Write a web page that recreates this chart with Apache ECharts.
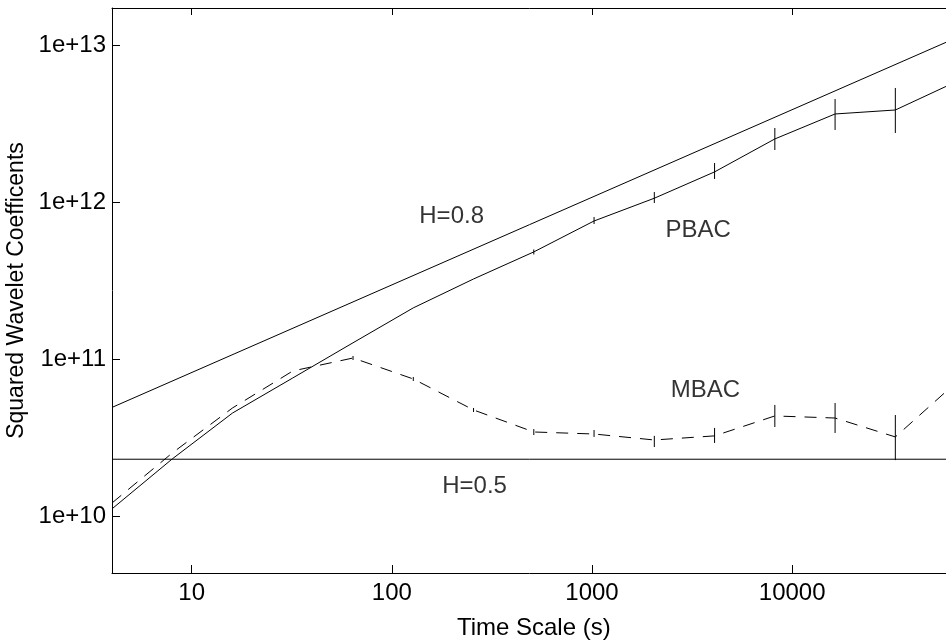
<!DOCTYPE html>
<html><head><meta charset="utf-8">
<script src="https://cdn.jsdelivr.net/npm/echarts@6/dist/echarts.min.js"></script>
<style>html,body{margin:0;padding:0;background:#fff}#c{width:946px;height:640px}</style>
</head><body><div id="c"></div>
<script>
// ---- data ----
const timeScales = [4, 8, 16, 32, 64, 128, 256, 512, 1024, 2048, 4096, 8192, 16384, 32768, 65536];
const pbac     = [1.11e10, 2.31e10, 4.53e10, 7.58e10, 1.27e11, 2.12e11, 3.24e11, 4.82e11, 7.59e11, 1.06e12, 1.56e12, 2.53e12, 3.65e12, 3.87e12, 5.84e12];
const pbacLow  = [null, null, null, null, null, null, null, 4.64e11, 7.26e11, 9.88e11, 1.406e12, 2.151e12, 2.886e12, 2.761e12, null];
const pbacHigh = [null, null, null, null, null, null, null, 5.00e11, 8.05e11, 1.161e12, 1.777e12, 2.971e12, 4.548e12, 5.346e12, null];
const mbac     = [1.21e10, 2.52e10, 4.88e10, 8.40e10, 1.016e11, 7.47e10, 4.74e10, 3.43e10, 3.33e10, 3.05e10, 3.24e10, 4.34e10, 4.21e10, 3.19e10, 7.04e10];
const mbacLow  = [null, null, null, null, 9.87e10, 7.25e10, 4.60e10, 3.28e10, 3.19e10, 2.75e10, 2.92e10, 3.69e10, 3.38e10, 2.27e10, null];
const mbacHigh = [null, null, null, null, 1.047e11, 7.69e10, 4.88e10, 3.58e10, 3.53e10, 3.24e10, 3.64e10, 5.10e10, 5.25e10, 4.40e10, null];
const refX   = [4, 65536];
const refH08 = [4.92e10, 1.111e13];
const refH05 = [2.30e10, 2.30e10];
const annoText = ['H=0.8', 'PBAC', 'MBAC', 'H=0.5'];
const annoX    = [199, 3390, 3690, 259];
const annoY    = [8.08e11, 6.65e11, 6.36e10, 1.546e10];
const xTickLabels = ['10', '100', '1000', '10000'];
const yTickLabels = ['1e+10', '1e+11', '1e+12', '1e+13'];
const xMin = 4, xMax = 65536, yMin = 4.33e9, yMax = 1.729e13;

// ---- chart ----
const FONT = 'Liberation Sans, Arial, Helvetica, sans-serif';
function isPow10(v) { const e = Math.log10(v); return Math.abs(e - Math.round(e)) < 1e-6; }
function xFmt(v) { if (!isPow10(v)) return ''; const s = String(Math.round(v)); return xTickLabels.includes(s) ? s : ''; }
function yFmt(v) { if (!isPow10(v)) return ''; const s = '1e+' + Math.round(Math.log10(v)); return yTickLabels.includes(s) ? s : ''; }
function pairs(xs, ys) { return xs.map((x, i) => [x, ys[i]]); }
function bars(lo, hi) { const out = []; timeScales.forEach((x, i) => { if (lo[i] != null) out.push([x, lo[i], hi[i]]); }); return out; }
function errRender(params, api) {
  const p1 = api.coord([api.value(0), api.value(1)]);
  const p2 = api.coord([api.value(0), api.value(2)]);
  return { type: 'line', shape: { x1: p1[0], y1: p1[1], x2: p2[0], y2: p2[1] }, style: { stroke: '#000', lineWidth: 1 } };
}
const black = '#000';
const axisCommon = { axisLine: { show: true, lineStyle: { color: black, width: 1 } }, splitLine: { show: false } };

const chart = echarts.init(document.getElementById('c'), null, { renderer: 'canvas' });
chart.setOption({
  animation: false,
  backgroundColor: '#fff',
  textStyle: { fontFamily: FONT },
  grid: { left: 112, top: 8, right: -9.6, bottom: 67, containLabel: false, outerBoundsMode: 'none' },
  xAxis: [
    Object.assign({
      type: 'log', logBase: 10, min: xMin, max: xMax, position: 'bottom',
      name: 'Time Scale (s)', nameLocation: 'middle', nameGap: 43,
      nameTextStyle: { color: black, fontSize: 24, fontFamily: FONT },
      axisTick: { show: true, inside: true, length: 8, lineStyle: { color: black } },
      axisLabel: { color: black, fontSize: 24, fontFamily: FONT, margin: 8, formatter: xFmt, showMinLabel: false, showMaxLabel: false }
    }, axisCommon),
    Object.assign({
      type: 'log', logBase: 10, min: xMin, max: xMax, position: 'top',
      axisTick: { show: true, inside: true, length: 7, lineStyle: { color: black } },
      axisLabel: { show: false }
    }, axisCommon)
  ],
  yAxis: [
    Object.assign({
      type: 'log', logBase: 10, min: yMin, max: yMax, position: 'left',
      name: 'Squared Wavelet Coefficents', nameLocation: 'middle', nameGap: 74,
      nameTextStyle: { color: black, fontSize: 23, fontFamily: FONT },
      axisTick: { show: true, inside: true, length: 8, lineStyle: { color: black } },
      axisLabel: { color: black, fontSize: 24, fontFamily: FONT, margin: 6, formatter: yFmt, showMinLabel: false, showMaxLabel: false }
    }, axisCommon)
  ],
  series: [
    { name: 'H=0.8', type: 'line', data: pairs(refX, refH08), symbol: 'none', lineStyle: { color: black, width: 1 }, silent: true },
    { name: 'H=0.5', type: 'line', data: pairs(refX, refH05), symbol: 'none', lineStyle: { color: black, width: 1 }, silent: true },
    { name: 'PBAC', type: 'line', data: pairs(timeScales, pbac), symbol: 'none', lineStyle: { color: black, width: 1 }, silent: true },
    { name: 'MBAC', type: 'line', data: pairs(timeScales, mbac), symbol: 'none', lineStyle: { color: black, width: 1, type: [12, 9] }, silent: true },
    { name: 'PBAC err', type: 'custom', renderItem: errRender, data: bars(pbacLow, pbacHigh), encode: { x: 0, y: [1, 2] }, silent: true },
    { name: 'MBAC err', type: 'custom', renderItem: errRender, data: bars(mbacLow, mbacHigh), encode: { x: 0, y: [1, 2] }, silent: true },
    { name: 'labels', type: 'scatter', symbolSize: 1, itemStyle: { color: 'rgba(0,0,0,0)' }, silent: true,
      data: annoText.map((t, i) => ({ name: t, value: [annoX[i], annoY[i]] })),
      label: { show: true, position: 'inside', formatter: '{b}', color: black, fontSize: 24, fontFamily: FONT } }
  ]
});
</script>
</body></html>
